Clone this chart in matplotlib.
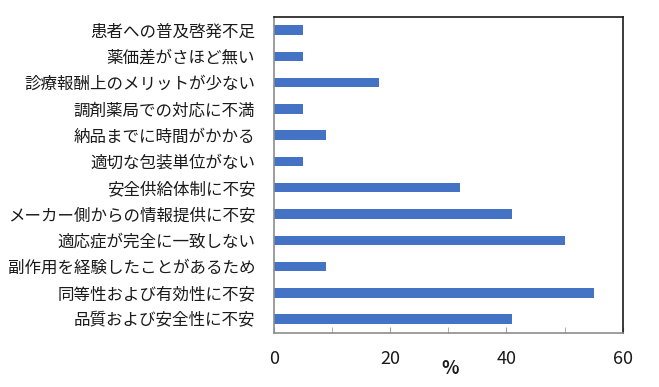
import matplotlib
matplotlib.use("Agg")
import matplotlib.pyplot as plt

plt.rcParams['font.family'] = ['Noto Sans CJK JP', 'DejaVu Sans']

categories = [
    "品質および安全性に不安",
    "同等性および有効性に不安",
    "副作用を経験したことがあるため",
    "適応症が完全に一致しない",
    "メーカー側からの情報提供に不安",
    "安全供給体制に不安",
    "適切な包装単位がない",
    "納品までに時間がかかる",
    "調剤薬局での対応に不満",
    "診療報酬上のメリットが少ない",
    "薬価差がさほど無い",
    "患者への普及啓発不足",
]
values = [41, 55, 9, 50, 41, 32, 5, 9, 5, 18, 5, 5]
major_ticks = [0, 20, 40, 60]
minor_ticks = [10, 30, 50]

fig = plt.figure(figsize=(6.59, 3.87), dpi=100)
W, H = 659, 387
left, right, top, bottom = 274, 622.7, 16.5, 332.7
ax = fig.add_axes([left / W, 1 - bottom / H, (right - left) / W, (bottom - top) / H])

ax.barh(range(len(categories)), values, height=0.36, color='#4472C4')
ax.set_xlim(0, 60)
ax.set_ylim(-0.52, len(categories) - 0.48)
ax.set_yticks(range(len(categories)))
ax.set_yticklabels(categories, fontsize=11.9, color='#1a1a1a')
ax.tick_params(axis='y', length=0, pad=13.5)

ax.set_xticks(major_ticks)
ax.set_xticks(minor_ticks, minor=True)
ax.set_xticklabels([str(t) for t in major_ticks], fontsize=13, color='#1a1a1a')
ax.tick_params(axis='x', which='both', direction='in', length=4, color='#a0a0a0', pad=12.5)

ax.spines['left'].set_color('#8c8c8c')
ax.spines['bottom'].set_color('#8c8c8c')
ax.spines['top'].set_color('#1a1a1a')
ax.spines['right'].set_color('#1a1a1a')
for s in ax.spines.values():
    s.set_linewidth(1.2)

fig.text(450 / W, 1 - 369 / H, '%', ha='center', va='center', fontsize=13,
         fontweight='bold', color='#1a1a1a')

fig.savefig('out.png', dpi=100)
